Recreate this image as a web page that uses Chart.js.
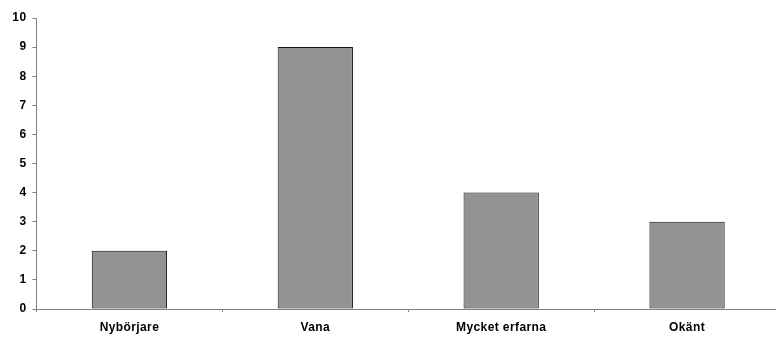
<!DOCTYPE html>
<html>
<head>
<meta charset="utf-8">
<script src="https://cdn.jsdelivr.net/npm/chart.js@4"></script>
<style>
  html, body { margin: 0; padding: 0; background: #fff; overflow: hidden; }
  #wrap { width: 780px; height: 337px; position: relative; }
</style>
</head>
<body>
<div id="wrap"><canvas id="chart"></canvas></div>
<script>
const categories = ['Nybörjare', 'Vana', 'Mycket erfarna', 'Okänt'];
const counts = [2, 9, 4, 3];
const yTicks = [0, 1, 2, 3, 4, 5, 6, 7, 8, 9, 10];

const axisColor = '#808080';
const labelFont = { family: '"Liberation Sans", Arial, sans-serif', size: 12, weight: 'bold' };

// Slightly wider lettering for all axis labels
const spacedText = {
  id: 'spacedText',
  beforeInit: c => { c.ctx.letterSpacing = '0.4px'; },
  beforeLayout: c => { c.ctx.letterSpacing = '0.4px'; },
  beforeDraw: c => { c.ctx.letterSpacing = '0.4px'; }
};

new Chart(document.getElementById('chart'), {
  type: 'bar',
  data: {
    labels: categories,
    datasets: [{
      data: counts,
      backgroundColor: '#939396',
      borderColor: '#111',
      borderWidth: 1,
      borderSkipped: false,
      categoryPercentage: 1,
      barPercentage: 0.405
    }]
  },
  options: {
    responsive: true,
    maintainAspectRatio: false,
    animation: false,
    layout: { padding: { top: 18, left: 0, right: 0, bottom: 0 } },
    plugins: { legend: { display: false }, tooltip: { enabled: false } },
    scales: {
      x: {
        offset: true,
        grid: { offset: true, drawOnChartArea: false, drawTicks: true, tickLength: 3, color: axisColor, lineWidth: 1 },
        border: { color: axisColor, width: 1 },
        ticks: { color: '#000', font: labelFont, padding: 8, maxRotation: 0 },
        afterFit: s => { s.height = 28; }
      },
      y: {
        min: 0,
        max: 10,
        afterBuildTicks: s => { s.ticks = yTicks.map(v => ({ value: v })); },
        grid: { drawOnChartArea: false, drawTicks: true, tickLength: 4, color: axisColor, lineWidth: 1 },
        border: { color: axisColor, width: 1 },
        ticks: { color: '#000', font: labelFont, padding: 6 },
        afterFit: s => { s.width = 36.5; }
      }
    }
  },
  plugins: [spacedText]
});
</script>
</body>
</html>
